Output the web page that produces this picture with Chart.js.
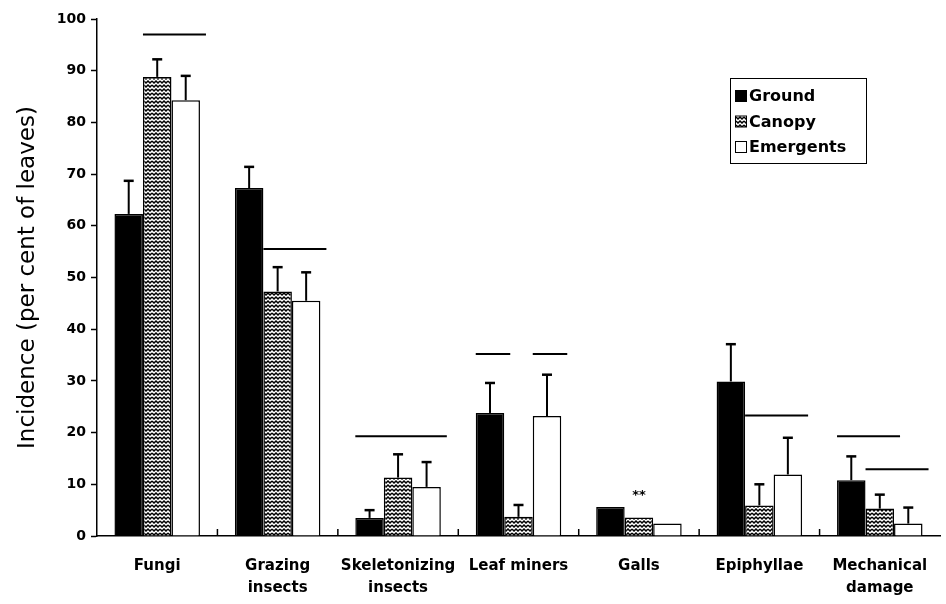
<!DOCTYPE html>
<html>
<head>
<meta charset="utf-8">
<script src="https://cdn.jsdelivr.net/npm/chart.js@4/dist/chart.umd.min.js"></script>
<style>
  html, body { margin: 0; background: #fff; }
</style>
</head>
<body>
<canvas id="chart" width="946" height="604"></canvas>
<script>
const categories = [['Fungi'], ['Grazing', 'insects'], ['Skeletonizing', 'insects'], ['Leaf miners'], ['Galls'], ['Epiphyllae'], ['Mechanical', 'damage']];
const ground = [62.3, 67.3, 3.5, 23.8, 5.6, 29.9, 10.8];
const canopy = [88.8, 47.3, 11.3, 3.7, 3.6, 5.9, 5.3];
const emergents = [84.3, 45.5, 9.5, 23.2, 2.4, 11.9, 2.4];
const groundErr = [6.4, 4.1, 1.5, 5.8, 0, 7.2, 4.6];
const canopyErr = [3.4, 4.7, 4.5, 2.3, 0, 4.1, 2.7];
const emergentsErr = [4.7, 5.5, 4.8, 8.0, 0, 7.1, 3.1];
const yTicks = [0, 10, 20, 30, 40, 50, 60, 70, 80, 90, 100];

// horizontal "no difference" lines: category, first bar, last bar (0 ground, 1 canopy, 2 emergents), level
const sigCategory = [0, 1, 2, 3, 3, 5, 6, 6];
const sigFrom = [1, 1, 0, 0, 2, 1, 0, 1];
const sigTo = [2, 2, 2, 0, 2, 2, 1, 2];
const sigLevel = [97, 55.5, 19.3, 35.2, 35.2, 23.3, 19.3, 12.9];

// the little mark over the galls canopy bar
const markCategory = 4;
const markText = '**';
const markLevel = 7.8;

const FONT = "'DejaVu Sans', Verdana, sans-serif";

function wavePattern() {
    const c = document.createElement('canvas');
    c.width = 8; c.height = 4;
    const g = c.getContext('2d');
    g.fillStyle = '#fff';
    g.fillRect(0, 0, 8, 4);
    g.strokeStyle = '#000';
    g.lineWidth = 1.5;
    g.beginPath();
    g.moveTo(0, 1); g.lineTo(2, 3); g.lineTo(4, 1); g.lineTo(6, 3); g.lineTo(8, 1);
    g.stroke();
    return g.createPattern(c, 'repeat');
}

const canopyFill = wavePattern();
const errors = [groundErr, canopyErr, emergentsErr];

const extras = {
    id: 'extras',
    afterDatasetsDraw(chart) {
        const ctx = chart.ctx;
        const x = chart.scales.x, y = chart.scales.y;
        const area = chart.chartArea;
        ctx.save();
        ctx.strokeStyle = '#000';
        ctx.fillStyle = '#000';

        // error bars (upper only)
        chart.data.datasets.forEach((ds, d) => {
            const meta = chart.getDatasetMeta(d);
            meta.data.forEach((bar, i) => {
                const e = errors[d][i];
                if (!e) return;
                const top = y.getPixelForValue(ds.data[i] + e);
                ctx.lineWidth = 2;
                ctx.beginPath();
                ctx.moveTo(bar.x, bar.y);
                ctx.lineTo(bar.x, top);
                ctx.stroke();
                ctx.lineWidth = 2.5;
                ctx.beginPath();
                ctx.moveTo(bar.x - 5, top);
                ctx.lineTo(bar.x + 5, top);
                ctx.stroke();
            });
        });

        // significance lines
        ctx.lineWidth = 2;
        sigCategory.forEach((c, k) => {
            const b1 = chart.getDatasetMeta(sigFrom[k]).data[c];
            const b2 = chart.getDatasetMeta(sigTo[k]).data[c];
            const py = y.getPixelForValue(sigLevel[k]);
            ctx.beginPath();
            ctx.moveTo(b1.x - b1.width / 2, py);
            ctx.lineTo(b2.x + b2.width / 2 + 6, py);
            ctx.stroke();
        });

        // galls mark
        const mb = chart.getDatasetMeta(1).data[markCategory];
        ctx.font = 'bold 13px ' + FONT;
        ctx.textAlign = 'center';
        ctx.textBaseline = 'middle';
        ctx.fillText(markText, mb.x, y.getPixelForValue(markLevel));

        // small ticks between groups
        ctx.lineWidth = 1.5;
        for (let i = 1; i < categories.length; i++) {
            const px = (x.getPixelForValue(i - 1) + x.getPixelForValue(i)) / 2;
            ctx.beginPath();
            ctx.moveTo(px, area.bottom);
            ctx.lineTo(px, area.bottom - 7);
            ctx.stroke();
        }

        // legend
        ctx.lineWidth = 1;
        ctx.strokeRect(730.5, 78.5, 136, 85);
        ctx.font = 'bold 16px ' + FONT;
        ctx.textAlign = 'left';
        chart.data.datasets.forEach((ds, d) => {
            const ly = 96 + d * 25.5;
            ctx.fillStyle = ds.backgroundColor;
            ctx.fillRect(735, ly - 5.5, 11, 11);
            ctx.strokeRect(735.5, ly - 5.5, 11, 11);
            ctx.fillStyle = '#000';
            ctx.fillText(ds.label, 749, ly + 1);
        });
        ctx.restore();
    }
};

new Chart(document.getElementById('chart'), {
    type: 'bar',
    data: {
        labels: categories,
        datasets: [
            { label: 'Ground', data: ground, backgroundColor: '#000', borderColor: '#000', borderWidth: 1.5 },
            { label: 'Canopy', data: canopy, backgroundColor: canopyFill, borderColor: '#000', borderWidth: 1.5 },
            { label: 'Emergents', data: emergents, backgroundColor: '#fff', borderColor: '#000', borderWidth: 1.5 }
        ]
    },
    options: {
        responsive: false,
        animation: false,
        devicePixelRatio: 1,
        layout: { padding: { left: 0, right: 6, top: 19, bottom: 0 } },
        datasets: { bar: { categoryPercentage: 0.71, barPercentage: 1.0 } },
        plugins: { legend: { display: false }, tooltip: { enabled: false } },
        scales: {
            x: {
                grid: { display: false },
                border: { color: '#000', width: 1.5 },
                ticks: { color: '#000', padding: 11, font: { family: FONT, size: 15, weight: 'bold', lineHeight: 1.45 }, maxRotation: 0, autoSkip: false },
                afterFit(scale) { scale.height = 68; }
            },
            y: {
                min: 0,
                max: 100,
                afterBuildTicks(scale) { scale.ticks = yTicks.map(v => ({ value: v })); },
                grid: { drawOnChartArea: false, color: '#000', tickLength: 6, tickWidth: 1.5 },
                border: { color: '#000', width: 1.5 },
                ticks: { color: '#000', padding: 5, font: { family: FONT, size: 14, weight: 'bold' } },
                title: {
                    display: true,
                    text: 'Incidence (per cent of leaves)',
                    color: '#000',
                    font: { family: FONT, size: 23 },
                    padding: { top: 14, bottom: 0 }
                },
                afterFit(scale) { scale.width = 97; }
            }
        }
    },
    plugins: [extras]
});
</script>
</body>
</html>
